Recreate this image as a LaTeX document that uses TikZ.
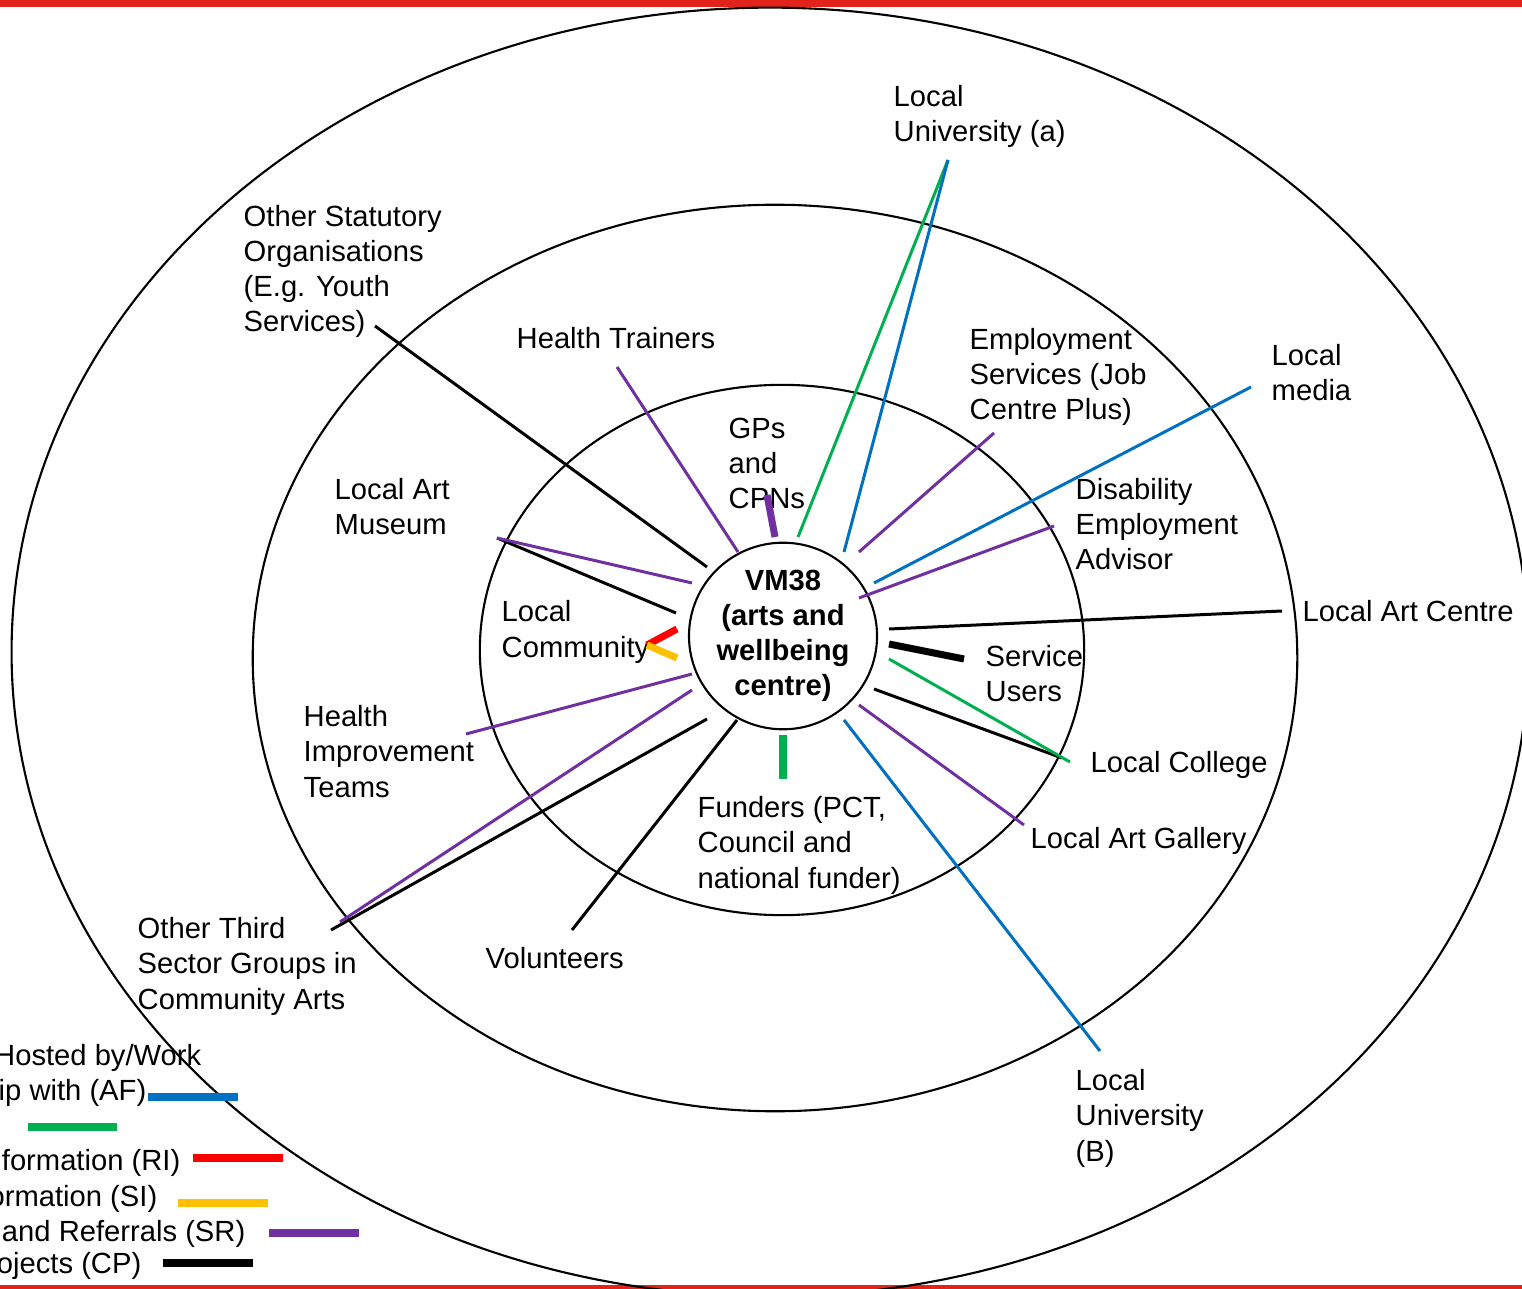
\documentclass[tikz,border=0pt]{standalone}
\usepackage{fontspec}
\setmainfont{Liberation Sans}
\usetikzlibrary{shapes.geometric}

\definecolor{borderred}{HTML}{E2231A}
\definecolor{afblue}{HTML}{0070C0}
\definecolor{linkgreen}{HTML}{00B050}
\definecolor{rired}{HTML}{FF0000}
\definecolor{siyellow}{HTML}{FFC000}
\definecolor{srpurple}{HTML}{7030A0}

\tikzset{
  lbl/.style={anchor=base west, align=left, inner sep=0pt, font=\fontsize{8.3}{10}\selectfont},
  keytext/.style={anchor=base east, inner sep=0pt, font=\fontsize{8.3}{10}\selectfont},
  ring/.style={line width=0.6pt},
  link/.style={line width=0.85pt},
  heavy/.style={line width=2pt}
}

\begin{document}
\begin{tikzpicture}[x=0.01cm, y=-0.01cm]

\useasboundingbox (0,0) rectangle (1522,1289);
\clip (0,0) rectangle (1522,1289);

% Slide border bars
\fill[borderred] (0,0) rectangle (1522,7);
\fill[borderred] (0,1285) rectangle (1522,1289);

% Rings
\draw[ring] (770,652) ellipse [x radius=7.58cm, y radius=6.44cm];
\draw[ring] (775,658) ellipse [x radius=5.22cm, y radius=4.53cm];
\draw[ring] (782,650) ellipse [x radius=3.02cm, y radius=2.65cm];

% Centre
\node (vm) [ellipse, draw, ring, inner sep=0pt, minimum width=1.82cm, minimum height=1.66cm,
  align=center, font=\fontsize{8.3}{10}\bfseries\selectfont] at (783,636)
  {VM38\\(arts and\\wellbeing\\centre)};

% Partners (placed at the baseline of the last line)
\node (uniA) [lbl] at (893,142) {Local\\University (a)};
\node (stat) [lbl] at (243,332) {Other Statutory\\Organisations\\(E.g. Youth\\Services)};
\node (trainers) [lbl] at (516,349) {Health Trainers};
\node (gps) [lbl] at (728,509) {GPs\\and\\CPNs};
\node (employ) [lbl] at (969,420) {Employment\\Services (Job\\Centre Plus)};
\node (media) [lbl] at (1271,401) {Local\\media};
\node (disab) [lbl] at (1075,570) {Disability\\Employment\\Advisor};
\node (artcentre) [lbl] at (1302,622) {Local Art Centre};
\node (users) [lbl] at (985,702) {Service\\Users};
\node (college) [lbl] at (1090,772) {Local College};
\node (gallery) [lbl] at (1030,848) {Local Art Gallery};
\node (uniB) [lbl] at (1075,1161) {Local\\University\\(B)};
\node (funders) [lbl] at (697,888) {Funders (PCT,\\Council and\\national funder)};
\node (volunteers) [lbl] at (485,968) {Volunteers};
\node (third) [lbl] at (137,1009) {Other Third\\Sector Groups in\\Community Arts};
\node (improve) [lbl] at (303,797) {Health\\Improvement\\Teams};
\node (museum) [lbl] at (334,535) {Local Art\\Museum};
\node (community) [lbl] at (501,657) {Local\\Community};

% Link end points
\coordinate (stat-o) at (375,326);       \coordinate (stat-i) at (707,567);
\coordinate (trainers-o) at (617,367);   \coordinate (trainers-i) at (738,552);
\coordinate (gps-o) at (767,495);        \coordinate (gps-i) at (775,537);
\coordinate (uniA-o) at (948,160);
\coordinate (uniA-g) at (798,537);       \coordinate (uniA-b) at (844,552);
\coordinate (employ-o) at (994,433);     \coordinate (employ-i) at (859,552);
\coordinate (media-o) at (1251,387);     \coordinate (media-i) at (874,583);
\coordinate (disab-o) at (1054,526);     \coordinate (disab-i) at (859,598);
\coordinate (artcentre-o) at (1282,611); \coordinate (artcentre-i) at (889,629);
\coordinate (users-o) at (964,659);      \coordinate (users-i) at (889,644);
\coordinate (college-g) at (1070,762);   \coordinate (college-gi) at (889,659);
\coordinate (college-k) at (1062,758);   \coordinate (college-ki) at (874,689);
\coordinate (gallery-o) at (1024,825);   \coordinate (gallery-i) at (859,705);
\coordinate (uniB-o) at (1100,1051);     \coordinate (uniB-i) at (844,720);
\coordinate (funders-o) at (783,779);    \coordinate (funders-i) at (783,735);
\coordinate (volunteers-o) at (572,930); \coordinate (volunteers-i) at (737,720);
\coordinate (third-k) at (331,930);      \coordinate (third-ki) at (707,719);
\coordinate (third-p) at (340,922);      \coordinate (third-pi) at (692,690);
\coordinate (improve-o) at (466,734);    \coordinate (improve-i) at (692,674);
\coordinate (museum-o) at (497,538);     \coordinate (museum-k) at (676,613);
\coordinate (museum-p) at (692,583);
\coordinate (community-o) at (647,645);
\coordinate (community-r) at (677,629);  \coordinate (community-y) at (677,658);

% Links
\draw[link] (stat-o) -- (stat-i);
\draw[link, srpurple] (trainers-o) -- (trainers-i);
\draw[heavy, srpurple] (gps-o) -- (gps-i);
\draw[link, linkgreen] (uniA-o) -- (uniA-g);
\draw[link, afblue] (uniA-o) -- (uniA-b);
\draw[link, srpurple] (employ-o) -- (employ-i);
\draw[link, afblue] (media-o) -- (media-i);
\draw[link, srpurple] (disab-o) -- (disab-i);
\draw[link] (artcentre-o) -- (artcentre-i);
\draw[heavy] (users-i) -- (users-o);
\draw[link] (college-ki) -- (college-k);
\draw[link, linkgreen] (college-gi) -- (college-g);
\draw[link, srpurple] (gallery-i) -- (gallery-o);
\draw[link, afblue] (uniB-i) -- (uniB-o);
\draw[heavy, linkgreen] (funders-i) -- (funders-o);
\draw[link] (volunteers-i) -- (volunteers-o);
\draw[link] (third-ki) -- (third-k);
\draw[link, srpurple] (third-pi) -- (third-p);
\draw[link, srpurple] (improve-i) -- (improve-o);
\draw[link] (museum-o) -- (museum-k);
\draw[link, srpurple] (museum-o) -- (museum-p);
\draw[heavy, rired] (community-r) -- (community-o);
\draw[heavy, siyellow] (community-o) -- (community-y);

% Key (cut off at the left edge, as on the slide)
\node (keyaf1) [keytext] at (202,1065) {Hosted by/Work};
\node (keyaf2) [keytext] at (147,1100) {ip with (AF)};
\node (keyri) [keytext] at (181,1170) {nformation (RI)};
\node (keysi) [keytext] at (158,1206) {ormation (SI)};
\node (keysr) [keytext] at (246,1241) {and Referrals (SR)};
\node (keycp) [keytext] at (142,1273) {ojects (CP)};
\foreach \col/\xa/\xb/\yy in {afblue/148/238/1097, linkgreen/28/117/1127,
    rired/193/283/1158, siyellow/178/268/1203, srpurple/269/359/1233, black/163/253/1263}
  \draw[heavy, \col] (\xa,\yy) -- (\xb,\yy);

\end{tikzpicture}
\end{document}
